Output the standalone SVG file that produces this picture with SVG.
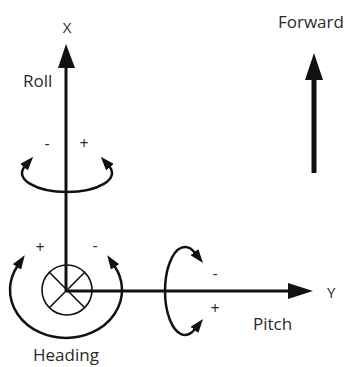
<svg xmlns="http://www.w3.org/2000/svg" width="350" height="367" viewBox="0 0 350 367">
<style>
text{font-family:"Open Sans","Liberation Sans",sans-serif;fill:#2a2a2a}
.lbl{font-size:17px}
.ax{font-size:15px}
.sg{font-size:16px}
.arc{fill:none;stroke:#111;stroke-width:2.5}
.axis{stroke:#111;stroke-width:3;fill:none}
.head{fill:#111}
</style>
<defs>
<marker id="ah" viewBox="0 0 14 10" refX="1" refY="5" markerWidth="14" markerHeight="10" markerUnits="userSpaceOnUse" orient="auto-start-reverse">
<path d="M0,0 L14,5 L0,10 z" fill="#111"/>
</marker>
</defs>
<rect width="350" height="367" fill="#fff"/>
<g id="connectors">
<line class="axis" x1="66" y1="291" x2="66" y2="66"/>
<polygon class="head" points="58,68 66,44 75,68"/>
<line class="axis" x1="66" y1="291" x2="290" y2="291"/>
<polygon class="head" points="288,283 313,291 288,299"/>
</g>
<g id="forward">
<line stroke="#111" stroke-width="5" x1="314" y1="173" x2="314" y2="78"/>
<polygon class="head" points="305,80 314,53 323,80"/>
<text class="lbl" x="278" y="28">Forward</text>
</g>
<g id="x-axis-label"><text class="ax" x="67" y="33" text-anchor="middle">X</text></g>
<g id="y-axis-label"><text class="ax" x="327" y="298">Y</text></g>
<g id="roll">
<path class="arc" d="M24.7,166.5 A45 19 0 1 0 109.3,166.5" marker-start="url(#ah)" marker-end="url(#ah)"/>
<text class="lbl" x="23" y="87">Roll</text>
<text class="sg" x="47" y="149" text-anchor="middle">-</text>
<text class="sg" x="84" y="149" text-anchor="middle">+</text>
</g>
<g id="heading">
<circle cx="67" cy="290" r="25" fill="none" stroke="#111" stroke-width="1.6"/>
<line stroke="#111" stroke-width="1.6" x1="49.3" y1="272.3" x2="84.7" y2="307.7"/>
<line stroke="#111" stroke-width="1.6" x1="84.7" y1="272.3" x2="49.3" y2="307.7"/>
<path class="arc" d="M17.5,266 A56 48 0 1 0 114.5,266" marker-start="url(#ah)" marker-end="url(#ah)"/>
<text class="lbl" x="33" y="361">Heading</text>
<text class="sg" x="40" y="253" text-anchor="middle">+</text>
<text class="sg" x="95" y="251" text-anchor="middle">-</text>
</g>
<g id="pitch">
<path class="arc" d="M195,252.9 A20 44 0 1 0 195,329.1" marker-start="url(#ah)" marker-end="url(#ah)"/>
<text class="lbl" x="253" y="330">Pitch</text>
<text class="sg" x="215" y="279" text-anchor="middle">-</text>
<text class="sg" x="215" y="314" text-anchor="middle">+</text>
</g>
</svg>
